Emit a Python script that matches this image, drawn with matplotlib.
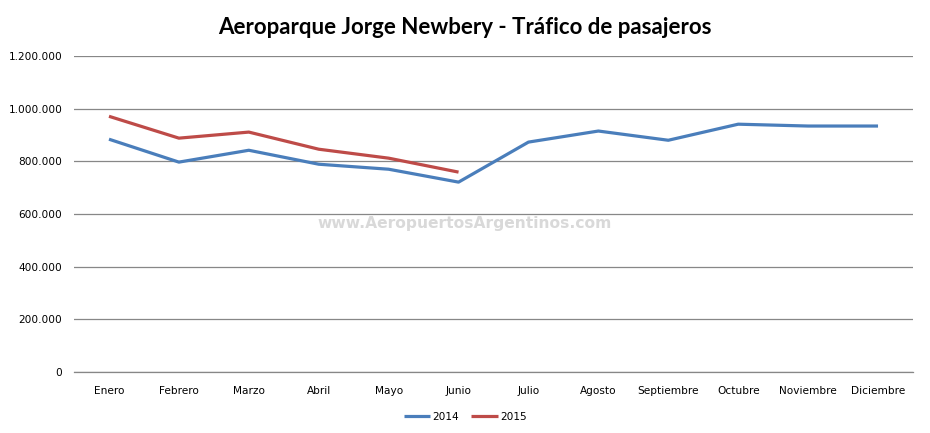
import matplotlib.pyplot as plt
from matplotlib.ticker import FuncFormatter

# Datos
meses = ['Enero', 'Febrero', 'Marzo', 'Abril', 'Mayo', 'Junio', 'Julio',
         'Agosto', 'Septiembre', 'Octubre', 'Noviembre', 'Diciembre']
pax_2014 = [884000, 797000, 842000, 789000, 770000, 721000, 873000,
            915000, 880000, 941000, 934000, 934000]
pax_2015 = [971000, 888000, 911000, 846000, 812000, 759000]
y_ticks = [0, 200000, 400000, 600000, 800000, 1000000, 1200000]

fig = plt.figure(figsize=(9.3, 4.33), dpi=100)
ax = fig.add_axes([0.0796, 0.1409, 0.9021, 0.7298])

x = list(range(len(meses)))
ax.plot(x, pax_2014, color='#4a7ebb', lw=2.3, label='2014', solid_capstyle='butt')
ax.plot(x[:len(pax_2015)], pax_2015, color='#be4b48', lw=2.3, label='2015',
        solid_capstyle='butt')

ax.set_xlim(-0.5, len(meses) - 0.5)
ax.set_ylim(0, 1200000)
ax.set_yticks(y_ticks)
ax.yaxis.set_major_formatter(FuncFormatter(lambda v, p: f'{int(v):,}'.replace(',', '.')))
ax.set_xticks(x)
ax.set_xticklabels(meses)
ax.tick_params(length=0, labelsize=7.6, colors='black')
ax.tick_params(axis='x', pad=10)
ax.tick_params(axis='y', pad=8.5)
ax.grid(axis='y', color='#878787', lw=0.9)
ax.set_axisbelow(True)
for s in ['top', 'right', 'left']:
    ax.spines[s].set_visible(False)
ax.spines['bottom'].set_color('#878787')
ax.spines['bottom'].set_linewidth(0.9)

fig.text(0.5, 0.936, 'Aeroparque Jorge Newbery - Tráfico de pasajeros',
         ha='center', va='center', fontsize=16, fontweight='bold', family='Lato')
ax.text(0.465, 0.47, 'www.AeropuertosArgentinos.com', transform=ax.transAxes,
        ha='center', va='center', fontsize=11.2, fontweight='bold', color='#d9d9d9')

fig.legend(loc='center', bbox_to_anchor=(0.5, 0.037), ncol=2, frameon=False,
           fontsize=7.6, handlelength=2.5, handletextpad=0.2, columnspacing=1.2)

fig.savefig('out.png', dpi=100)
